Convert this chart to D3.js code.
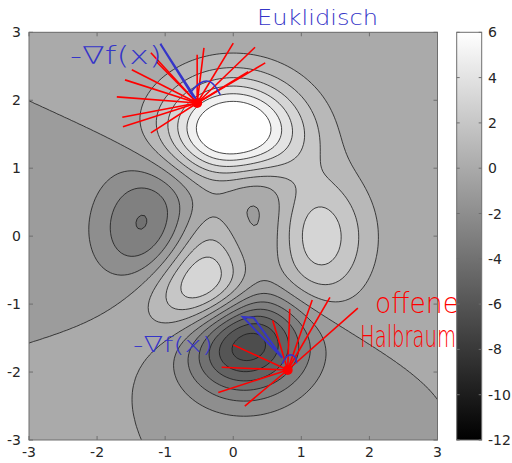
<!DOCTYPE html>
<html>
<head>
<meta charset="utf-8">
<script src="https://cdn.jsdelivr.net/npm/d3@7"></script>
<style>
  body { margin: 0; background: #fff; }
  svg text { font-family: "DejaVu Sans", sans-serif; }
</style>
</head>
<body>
<svg id="chart" width="512" height="463"></svg>
<script>
// surface: MATLAB "peaks" sampled on [-3,3] x [-3,3]
var xRange = [-3, 3];
var yRange = [-3, 3];
var gridSize = 121;
var levels = [-6, -5, -4, -3, -2, -1, 0, 1, 2, 3, 4, 5, 6];
var axisTicks = [-3, -2, -1, 0, 1, 2, 3];
var colorTicks = [-12, -10, -8, -6, -4, -2, 0, 2, 4, 6];
var colorRange = [-12, 6];

// hand-drawn annotations (data coordinates)
var pointA = [-0.53, 1.96];
var raysA = [[-1.21, 2.70], [-1.49, 2.45], [-1.59, 2.30], [-1.71, 2.05], [-1.63, 1.75],
             [-1.62, 1.61], [-1.21, 1.52], [-1.12, 2.56], [-0.43, 2.77], [-0.53, 2.67],
             [0.00, 2.84], [0.32, 2.78], [0.47, 2.55], [0.22, 2.42]];
var pointB = [0.80, -1.97];
var raysB = [[1.16, -0.94], [1.42, -0.90], [1.83, -1.06], [0.83, -1.07], [0.58, -1.24],
             [0.00, -1.60], [-0.17, -1.93], [-0.22, -2.30], [0.17, -2.50]];
var arrowA = [[-0.58, 2.04], [-1.07, 2.83], [-1.00, 2.72], [-0.55, 2.02]];
var arrowB = [[0.72, -1.79], [0.14, -1.19], [0.30, -1.20], [0.70, -1.76]];
var arcA = [[-0.64, 2.10], [-0.49, 2.28], [-0.31, 2.30], [-0.19, 2.08]];
var arcB = [[0.72, -1.88], [0.78, -1.74], [0.92, -1.75], [0.93, -1.87]];

function peaks(x, y) {
  return 3 * (1 - x) * (1 - x) * Math.exp(-x * x - (y + 1) * (y + 1))
    - 10 * (x / 5 - x * x * x - Math.pow(y, 5)) * Math.exp(-x * x - y * y)
    - 1 / 3 * Math.exp(-(x + 1) * (x + 1) - y * y);
}

var margin = {left: 29, top: 32.3, right: 437.5, bottom: 440};
var svg = d3.select("#chart");

var x = d3.scaleLinear().domain(xRange).range([margin.left, margin.right]);
var y = d3.scaleLinear().domain(yRange).range([margin.bottom, margin.top]);
var color = d3.scaleLinear().domain(colorRange).range(["#000", "#fff"]).clamp(true);

var step = (xRange[1] - xRange[0]) / (gridSize - 1);
var values = new Array(gridSize * gridSize);
for (var j = 0; j < gridSize; j++) {
  for (var i = 0; i < gridSize; i++) {
    values[j * gridSize + i] = peaks(xRange[0] + i * step, yRange[0] + j * step);
  }
}

var path = d3.geoPath(d3.geoTransform({
  point: function(gx, gy) {
    this.stream.point(x(xRange[0] + (gx - 0.5) * step), y(yRange[0] + (gy - 0.5) * step));
  }
}));

var fillLevels = [d3.min(values)].concat(levels);
var contours = d3.contours().size([gridSize, gridSize]).thresholds(fillLevels)(values);

svg.append("clipPath").attr("id", "plotclip")
  .append("rect")
  .attr("x", margin.left).attr("y", margin.top)
  .attr("width", margin.right - margin.left).attr("height", margin.bottom - margin.top);

var plot = svg.append("g").attr("clip-path", "url(#plotclip)");

plot.selectAll("path.fill")
  .data(contours)
  .enter().append("path")
  .attr("class", "fill")
  .attr("d", path)
  .attr("fill", function(d) { return color(d.value); });

plot.selectAll("path.line")
  .data(contours.slice(1))
  .enter().append("path")
  .attr("class", "line")
  .attr("d", path)
  .attr("fill", "none")
  .attr("stroke", "#1a1a1a")
  .attr("stroke-width", 0.8);

// axes box with inward ticks
svg.append("rect")
  .attr("x", margin.left).attr("y", margin.top)
  .attr("width", margin.right - margin.left).attr("height", margin.bottom - margin.top)
  .attr("fill", "none").attr("stroke", "#6e6e6e").attr("stroke-width", 1);

var tickLen = 4;
axisTicks.forEach(function(t) {
  svg.append("line").attr("x1", x(t)).attr("x2", x(t)).attr("y1", margin.bottom).attr("y2", margin.bottom - tickLen).attr("stroke", "#6e6e6e");
  svg.append("line").attr("x1", x(t)).attr("x2", x(t)).attr("y1", margin.top).attr("y2", margin.top + tickLen).attr("stroke", "#6e6e6e");
  svg.append("line").attr("y1", y(t)).attr("y2", y(t)).attr("x1", margin.left).attr("x2", margin.left + tickLen).attr("stroke", "#6e6e6e");
  svg.append("line").attr("y1", y(t)).attr("y2", y(t)).attr("x1", margin.right).attr("x2", margin.right - tickLen).attr("stroke", "#6e6e6e");
});

svg.selectAll("text.xt").data(axisTicks).enter().append("text")
  .attr("class", "xt")
  .attr("x", function(d) { return x(d); })
  .attr("y", 457)
  .attr("text-anchor", "middle")
  .attr("font-size", 14).attr("fill", "#262626")
  .text(function(d) { return d; });

svg.selectAll("text.yt").data(axisTicks).enter().append("text")
  .attr("class", "yt")
  .attr("x", 21)
  .attr("y", function(d) { return y(d); })
  .attr("dy", "0.36em")
  .attr("text-anchor", "end")
  .attr("font-size", 14).attr("fill", "#262626")
  .text(function(d) { return d; });

// hand-drawn annotations
var line = d3.line().x(function(d) { return x(d[0]); }).y(function(d) { return y(d[1]); });
var curve = d3.line().curve(d3.curveBasis).x(function(d) { return x(d[0]); }).y(function(d) { return y(d[1]); });

var notes = svg.append("g");
[[pointA, raysA], [pointB, raysB]].forEach(function(p) {
  p[1].forEach(function(e) {
    notes.append("path").attr("d", line([p[0], e]))
      .attr("stroke", "#ff0000").attr("stroke-width", 1.6).attr("fill", "none");
  });
  notes.append("circle").attr("cx", x(p[0][0])).attr("cy", y(p[0][1])).attr("r", 5).attr("fill", "#ff0000");
});

[arrowA, arrowB].forEach(function(a) {
  notes.append("path").attr("d", line(a))
    .attr("stroke", "#3535c8").attr("stroke-width", 2).attr("fill", "none");
});
[arcA, arcB].forEach(function(a) {
  notes.append("path").attr("d", curve(a))
    .attr("stroke", "#3535c8").attr("stroke-width", 1.6).attr("fill", "none");
});

// scale each note horizontally so it spans the same width as in the picture
function note(txt, px, py, w, size, col) {
  var t = notes.append("text")
    .attr("font-size", size).attr("fill", col).attr("font-weight", 200)
    .text(txt);
  var w0 = t.node().getComputedTextLength();
  t.attr("transform", "translate(" + px + "," + py + ") scale(" + (w / w0) + ",1)");
}
note("Euklidisch", 257, 25, 121, 22, "#3535c8");
note("-∇f(x)", 70, 64, 92, 24, "#3535c8");
note("-∇f(x)", 133, 352, 80, 22, "#3535c8");
note("offene", 375, 313, 84, 28, "#ff0000");
note("Halbraum", 360, 347, 96, 31, "#ff0000");

// colorbar
var cbX = 456.7, cbW = 25;
var cy = d3.scaleLinear().domain(colorRange).range([margin.bottom, margin.top]);
var grad = svg.append("defs").append("linearGradient").attr("id", "cbgrad")
  .attr("x1", 0).attr("y1", 1).attr("x2", 0).attr("y2", 0);
grad.append("stop").attr("offset", 0).attr("stop-color", color(colorRange[0]));
grad.append("stop").attr("offset", 1).attr("stop-color", color(colorRange[1]));

svg.append("rect")
  .attr("x", cbX).attr("y", margin.top)
  .attr("width", cbW).attr("height", margin.bottom - margin.top)
  .attr("fill", "url(#cbgrad)").attr("stroke", "#6e6e6e");

colorTicks.forEach(function(t) {
  svg.append("line").attr("x1", cbX + cbW).attr("x2", cbX + cbW - 3).attr("y1", cy(t)).attr("y2", cy(t)).attr("stroke", "#6e6e6e");
  svg.append("line").attr("x1", cbX).attr("x2", cbX + 3).attr("y1", cy(t)).attr("y2", cy(t)).attr("stroke", "#6e6e6e");
});
svg.selectAll("text.ct").data(colorTicks).enter().append("text")
  .attr("class", "ct")
  .attr("x", 488)
  .attr("y", function(d) { return cy(d); })
  .attr("dy", "0.36em")
  .attr("font-size", 14).attr("fill", "#262626")
  .text(function(d) { return d; });
</script>
</body>
</html>
